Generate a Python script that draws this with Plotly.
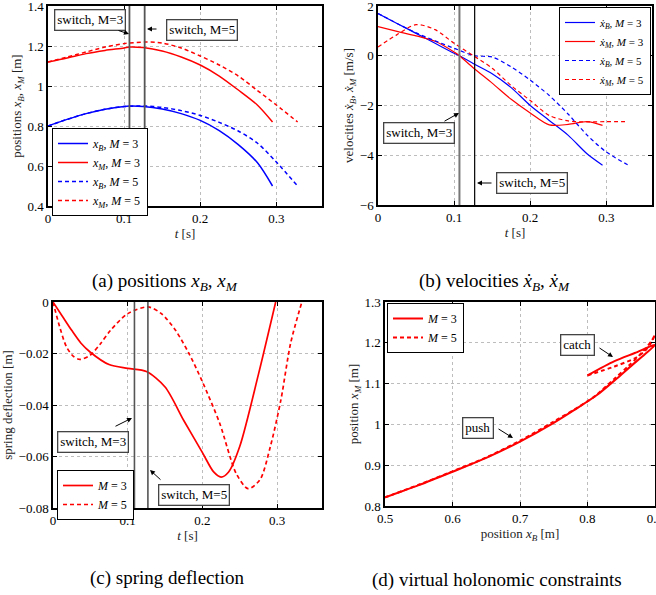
import plotly.graph_objects as go

# ---------------- data ----------------
# (a) positions, (b) velocities
t3 = [0, 0.025, 0.05, 0.075, 0.1, 0.107, 0.125, 0.15, 0.175, 0.2, 0.225, 0.25, 0.275, 0.295]
t5 = [0, 0.025, 0.05, 0.075, 0.1, 0.127, 0.15, 0.175, 0.2, 0.225, 0.25, 0.275, 0.3, 0.328]

xB3 = [0.80, 0.833, 0.862, 0.884, 0.898, 0.900, 0.898, 0.885, 0.862, 0.828, 0.777, 0.707, 0.617, 0.500]
xM3 = [1.12, 1.140, 1.162, 1.178, 1.190, 1.195, 1.192, 1.175, 1.145, 1.105, 1.050, 0.980, 0.905, 0.820]
xB5 = [0.80, 0.833, 0.862, 0.884, 0.897, 0.900, 0.893, 0.877, 0.853, 0.818, 0.775, 0.715, 0.620, 0.500]
xM5 = [1.12, 1.145, 1.170, 1.195, 1.212, 1.220, 1.215, 1.190, 1.150, 1.105, 1.050, 0.978, 0.905, 0.820]

vB3 = [1.70, 1.30, 0.90, 0.50, 0.10, 0.0, -0.31, -0.72, -1.28, -2.0, -2.6, -3.2, -3.95, -4.40]
vM3 = [1.17, 0.98, 0.80, 0.58, 0.15, 0.0, -0.48, -1.10, -1.75, -2.30, -2.78, -2.76, -2.65, -2.80]
vB5 = [1.70, 1.30, 0.92, 0.60, 0.30, 0.0, -0.05, -0.45, -0.98, -1.60, -2.35, -3.20, -3.87, -4.38]
vM5 = [0.35, 0.85, 1.25, 1.05, 0.50, -0.03, -0.50, -1.20, -1.80, -2.40, -2.62, -2.66, -2.65, -2.65]

# (c) spring deflection
tc3 = [0, 0.0125, 0.025, 0.0375, 0.05, 0.075, 0.1, 0.125, 0.15, 0.175, 0.2, 0.215, 0.225, 0.235, 0.25, 0.275, 0.298]
dc3 = [0, -0.0055, -0.011, -0.016, -0.0195, -0.0243, -0.0258, -0.027, -0.033, -0.046, -0.0585,
       -0.066, -0.068, -0.066, -0.056, -0.028, 0]
tc5 = [0, 0.009, 0.018, 0.027, 0.036, 0.05, 0.064, 0.077, 0.1, 0.127, 0.145, 0.164, 0.182, 0.2,
       0.223, 0.245, 0.261, 0.277, 0.291, 0.305, 0.318, 0.333]
dc5 = [0, -0.0097, -0.0174, -0.021, -0.0223, -0.0206, -0.016, -0.011, -0.0045, -0.0019, -0.0045,
       -0.011, -0.02, -0.031, -0.047, -0.0665, -0.0725, -0.069, -0.056, -0.038, -0.016, 0]

# (d) virtual holonomic constraints
xb_d3 = [0.80, 0.84, 0.87, 0.90, 0.885, 0.863, 0.843, 0.814, 0.78, 0.75, 0.70, 0.65, 0.60, 0.55, 0.50]
xm_d3 = [1.12, 1.155, 1.175, 1.195, 1.172, 1.141, 1.112, 1.072, 1.035, 1.004, 0.958, 0.918, 0.884, 0.851, 0.821]
xb_d5 = [0.80, 0.84, 0.87, 0.885, 0.895, 0.90, 0.895, 0.88, 0.86, 0.84, 0.81, 0.78, 0.75, 0.70, 0.65, 0.60, 0.55, 0.50]
xm_d5 = [1.12, 1.142, 1.162, 1.18, 1.202, 1.22, 1.205, 1.175, 1.142, 1.112, 1.068, 1.036, 1.007, 0.96,
         0.919, 0.885, 0.852, 0.821]

switch_a = [0.107, 0.127]
switch_b = [0.107, 0.127]
switch_c = [0.109, 0.127]

# ---------------- figure ----------------
W, H = 656, 595
def px(x): return x / W
def py(y): return 1 - y / H

SERIF = "Liberation Serif, Times New Roman, serif"
BLUE, RED = "#0000ff", "#ff0000"
DASH = "4px,3px"

fig = go.Figure()

def add(x, y, ax, color, dash, name, legend, width=1.5):
    fig.add_trace(go.Scatter(
        x=x, y=y, mode="lines", name=name, legend=legend,
        xaxis="x" + ax, yaxis="y" + ax,
        line=dict(color=color, dash=dash, width=width, shape="spline", smoothing=0.8)))

def xs(sub): return "<i>x</i><sub><i>%s</i></sub>" % sub
def xd(sub): return "<i>ẋ</i><sub><i>%s</i></sub>" % sub

# (a)
add(t3, xB3, "", BLUE, "solid", xs("B") + ", <i>M</i> = 3", "legend")
add(t3, xM3, "", RED, "solid", xs("M") + ", <i>M</i> = 3", "legend")
add(t5, xB5, "", BLUE, DASH, xs("B") + ", <i>M</i> = 5", "legend")
add(t5, xM5, "", RED, DASH, xs("M") + ", <i>M</i> = 5", "legend")
# (b)
add(t3, vB3, "2", BLUE, "solid", xd("B") + ", <i>M</i> = 3", "legend2", 1.2)
add(t3, vM3, "2", RED, "solid", xd("M") + ", <i>M</i> = 3", "legend2", 1.2)
add(t5, vB5, "2", BLUE, DASH, xd("B") + ", <i>M</i> = 5", "legend2", 1.2)
add(t5, vM5, "2", RED, DASH, xd("M") + ", <i>M</i> = 5", "legend2", 1.2)
# (c)
add(tc3, dc3, "3", RED, "solid", "<i>M</i> = 3", "legend3", 1.7)
add(tc5, dc5, "3", RED, DASH, "<i>M</i> = 5", "legend3", 1.7)
# (d)
add(xb_d3, xm_d3, "4", RED, "solid", "<i>M</i> = 3", "legend4", 2)
add(xb_d5, xm_d5, "4", RED, DASH, "<i>M</i> = 5", "legend4", 2)

def axis(dom, rng, dtick, title, anchor):
    return dict(domain=dom, range=rng, dtick=dtick, tick0=rng[0], anchor=anchor,
                showline=True, linecolor="black", linewidth=1.5, mirror="ticks",
                ticks="inside", ticklen=4, tickcolor="black",
                showgrid=True, gridcolor="#bdbdbd", griddash="dot", gridwidth=1,
                zeroline=False, automargin=False, ticklabeloverflow="allow",
                tickfont=dict(family=SERIF, size=13, color="black"),
                title=dict(text=title, font=dict(family=SERIF, size=13, color="#222"), standoff=3))

tt = "<i>t</i> [s]"
fig.update_layout(
    xaxis=axis([px(48), px(322)], [0, 0.36], 0.1, tt, "y"),
    yaxis=axis([py(206), py(6)], [0.4, 1.4001], 0.2,
               "positions " + xs("B") + ", " + xs("M") + " [m]", "x"),
    xaxis2=axis([px(378), px(652)], [0, 0.36], 0.1, tt, "y2"),
    yaxis2=axis([py(205), py(6)], [-6, 2.0001], 2,
                "velocities " + xd("B") + ", " + xd("M") + " [m/s]", "x2"),
    xaxis3=axis([px(53), px(322)], [0, 0.36], 0.1, tt, "y3"),
    yaxis3=axis([py(508), py(302)], [-0.08, 0.00001], 0.02, "spring deflection [m]", "x3"),
    xaxis4=axis([px(385), px(655)], [0.5, 0.90001], 0.1, "position " + xs("B") + " [m]", "y4"),
    yaxis4=axis([py(506), py(302)], [0.8, 1.30001], 0.1, "position " + xs("M") + " [m]", "x4"),
)

def leg(x, y, xa, size=12):
    return dict(x=px(x), y=py(y), xanchor=xa, yanchor="top", xref="paper", yref="paper",
                bgcolor="white", bordercolor="black", borderwidth=1, tracegroupgap=0,
                font=dict(family=SERIF, size=size, color="black"), itemwidth=30)

fig.update_layout(legend=leg(52, 128, "left"), legend2=leg(651, 7, "right", 11),
                  legend3=leg(57, 470, "left"), legend4=leg(387, 303, "left"))

# switch lines
shapes = []
for i, s in enumerate(switch_a):
    shapes.append(dict(type="line", xref="x", yref="y domain", x0=s, x1=s, y0=0, y1=1,
                       line=dict(color="#555", width=1.8)))
for i, s in enumerate(switch_b):
    shapes.append(dict(type="line", xref="x2", yref="y2 domain", x0=s, x1=s, y0=0, y1=1,
                       line=dict(color="#777" if i == 0 else "black", width=2 if i == 0 else 1.2)))
for i, s in enumerate(switch_c):
    shapes.append(dict(type="line", xref="x3", yref="y3 domain", x0=s, x1=s, y0=0, y1=1,
                       line=dict(color="#555", width=1.6)))
fig.update_layout(shapes=shapes)

anns = []
def box(text, cx, cy):
    anns.append(dict(text=text, x=px(cx), y=py(cy), xref="paper", yref="paper",
                     xanchor="center", yanchor="middle", showarrow=False,
                     bgcolor="white", bordercolor="#444", borderwidth=1.3, borderpad=2,
                     font=dict(family=SERIF, size=13, color="black")))
def arrow(tx, ty, hx, hy):
    anns.append(dict(text="", x=px(hx), y=py(hy), xref="paper", yref="paper",
                     showarrow=True, ax=tx - hx, ay=ty - hy, arrowhead=2, arrowsize=1,
                     arrowwidth=1, arrowcolor="black", standoff=0))

box("switch, M=3", 89.5, 20); arrow(117, 30, 129, 34)
box("switch, M=5", 201.5, 30); arrow(158, 29, 147, 29)
box("switch, M=3", 419, 133); arrow(443, 122, 459, 113)
box("switch, M=5", 532, 183); arrow(493, 183, 477, 183)
box("switch, M=3", 93.5, 442); arrow(114, 427, 132, 418)
box("switch, M=5", 193.5, 494.5); arrow(162, 481, 150, 470)
box("catch", 577.5, 345); arrow(598, 347, 613, 357)
box("push", 477.5, 428); arrow(497, 428, 513, 438)

def cap(text, cx, cy):
    anns.append(dict(text=text, x=px(cx), y=py(cy), xref="paper", yref="paper",
                     xanchor="center", yanchor="middle", showarrow=False,
                     font=dict(family=SERIF, size=19, color="black")))
cap("(a) positions " + xs("B") + ", " + xs("M"), 165, 282)
cap("(b) velocities " + xd("B") + ", " + xd("M"), 494, 282)
cap("(c) spring deflection", 167, 578)
cap("(d) virtual holonomic constraints", 497, 580)
fig.update_layout(annotations=anns)

fig.update_layout(width=W, height=H, margin=dict(l=0, r=0, t=0, b=0),
                  plot_bgcolor="white", paper_bgcolor="white", showlegend=True)

fig.write_html("out.html", config={"displayModeBar": False},
               post_script="document.body.style.margin='0';document.body.style.overflow='hidden';")
